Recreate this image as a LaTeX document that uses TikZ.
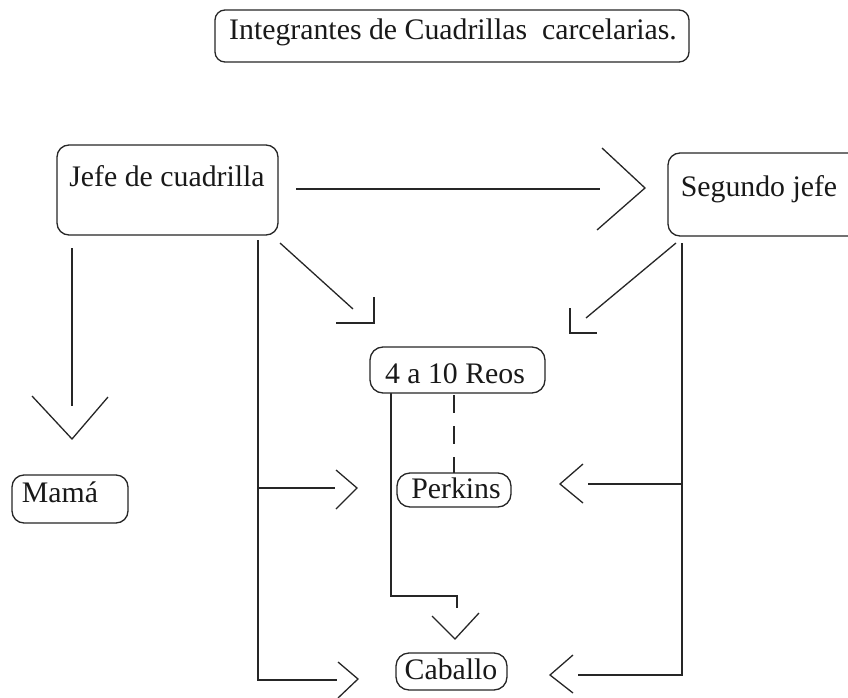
\documentclass[tikz,border=0pt]{standalone}
\usepackage{fontspec}
\setmainfont{Liberation Serif}
\begin{document}
\begin{tikzpicture}[x=1pt,y=-1pt,
  ln/.style={line width=1.3pt,black!85},
  bx/.style={draw=black!85,line width=1.3pt,fill=white,rounded corners=10pt},
  lbl/.style={inner sep=0pt,anchor=base,font=\fontsize{29.8}{32}\selectfont,text=black!90}]
\useasboundingbox (0,0) rectangle (848,698);
% boxes
\draw[bx] (215,10) rectangle (689,62);
\node[lbl] (title) at (453,40) {Integrantes de Cuadrillas\ \ carcelarias.};
\draw[bx,rounded corners=12pt] (57,145) rectangle (278,235);
\node[lbl] (jefe) at (167,186) {Jefe de cuadrilla};
\draw[bx,rounded corners=12pt] (668,153) rectangle (870,236);
\node[lbl] (seg) at (759,196) {Segundo jefe};
% connectors
\coordinate (j1) at (296,189); \coordinate (j2) at (600,189);
\draw[ln] (j1) -- (j2);
\draw[ln] (602,148) -- (645,188) -- (597,230);
\coordinate (d1) at (280,243); \coordinate (d2) at (353,309);
\draw[ln] (d1) -- (d2);
\draw[ln] (374,297) -- (374,323) -- (336,323);
\coordinate (e1) at (676,243); \coordinate (e2) at (586,318);
\draw[ln] (e1) -- (e2);
\draw[ln] (570,308) -- (570,333) -- (597,333);
\coordinate (m1) at (72,248); \coordinate (m2) at (72,406);
\draw[ln] (m1) -- (m2);
\draw[ln] (32,396) -- (72,439) -- (108,397);
% left bracket
\coordinate (lb1) at (258,240); \coordinate (lb2) at (258,680);
\coordinate (lp) at (335,488); \coordinate (lc) at (337,680);
\draw[ln] (lb1) -- (lb2) -- (lc);
\draw[ln] (258,488) -- (lp);
\draw[ln] (336,470) -- (357,488) -- (336,509);
\draw[ln] (338,662) -- (358,679) -- (338,698);
% right bracket
\coordinate (rb1) at (682,243); \coordinate (rb2) at (682,675);
\coordinate (rp) at (588,484); \coordinate (rc) at (578,675);
\draw[ln] (rb1) -- (rb2) -- (rc);
\draw[ln] (682,484) -- (rp);
\draw[ln] (583,464) -- (560,484) -- (583,503);
\draw[ln] (573,655) -- (550,675) -- (573,693);
% reos to caballo
\draw[ln] (391,393) -- (391,596) -- (457,596) -- (457,608);
\draw[ln] (432,616) -- (455,639) -- (479,613);
% dashed
\draw[ln,dash pattern=on 18pt off 13pt] (454,395) -- (454,510);
% small boxes
\draw[bx,rounded corners=13pt] (370,347) rectangle (545,393);
\node[lbl] (reos) at (455,383) {4 a 10 Reos};
\draw[bx,rounded corners=13pt] (397,473) rectangle (511,507);
\node[lbl] (perkins) at (456,498) {Perkins};
\draw[bx,rounded corners=13pt] (396,653) rectangle (507,690);
\node[lbl] (caballo) at (451,679) {Caballo};
\draw[bx,rounded corners=12pt] (12,475) rectangle (128,523);
\node[lbl] (mama) at (60,502) {Mamá};
\end{tikzpicture}
\end{document}
